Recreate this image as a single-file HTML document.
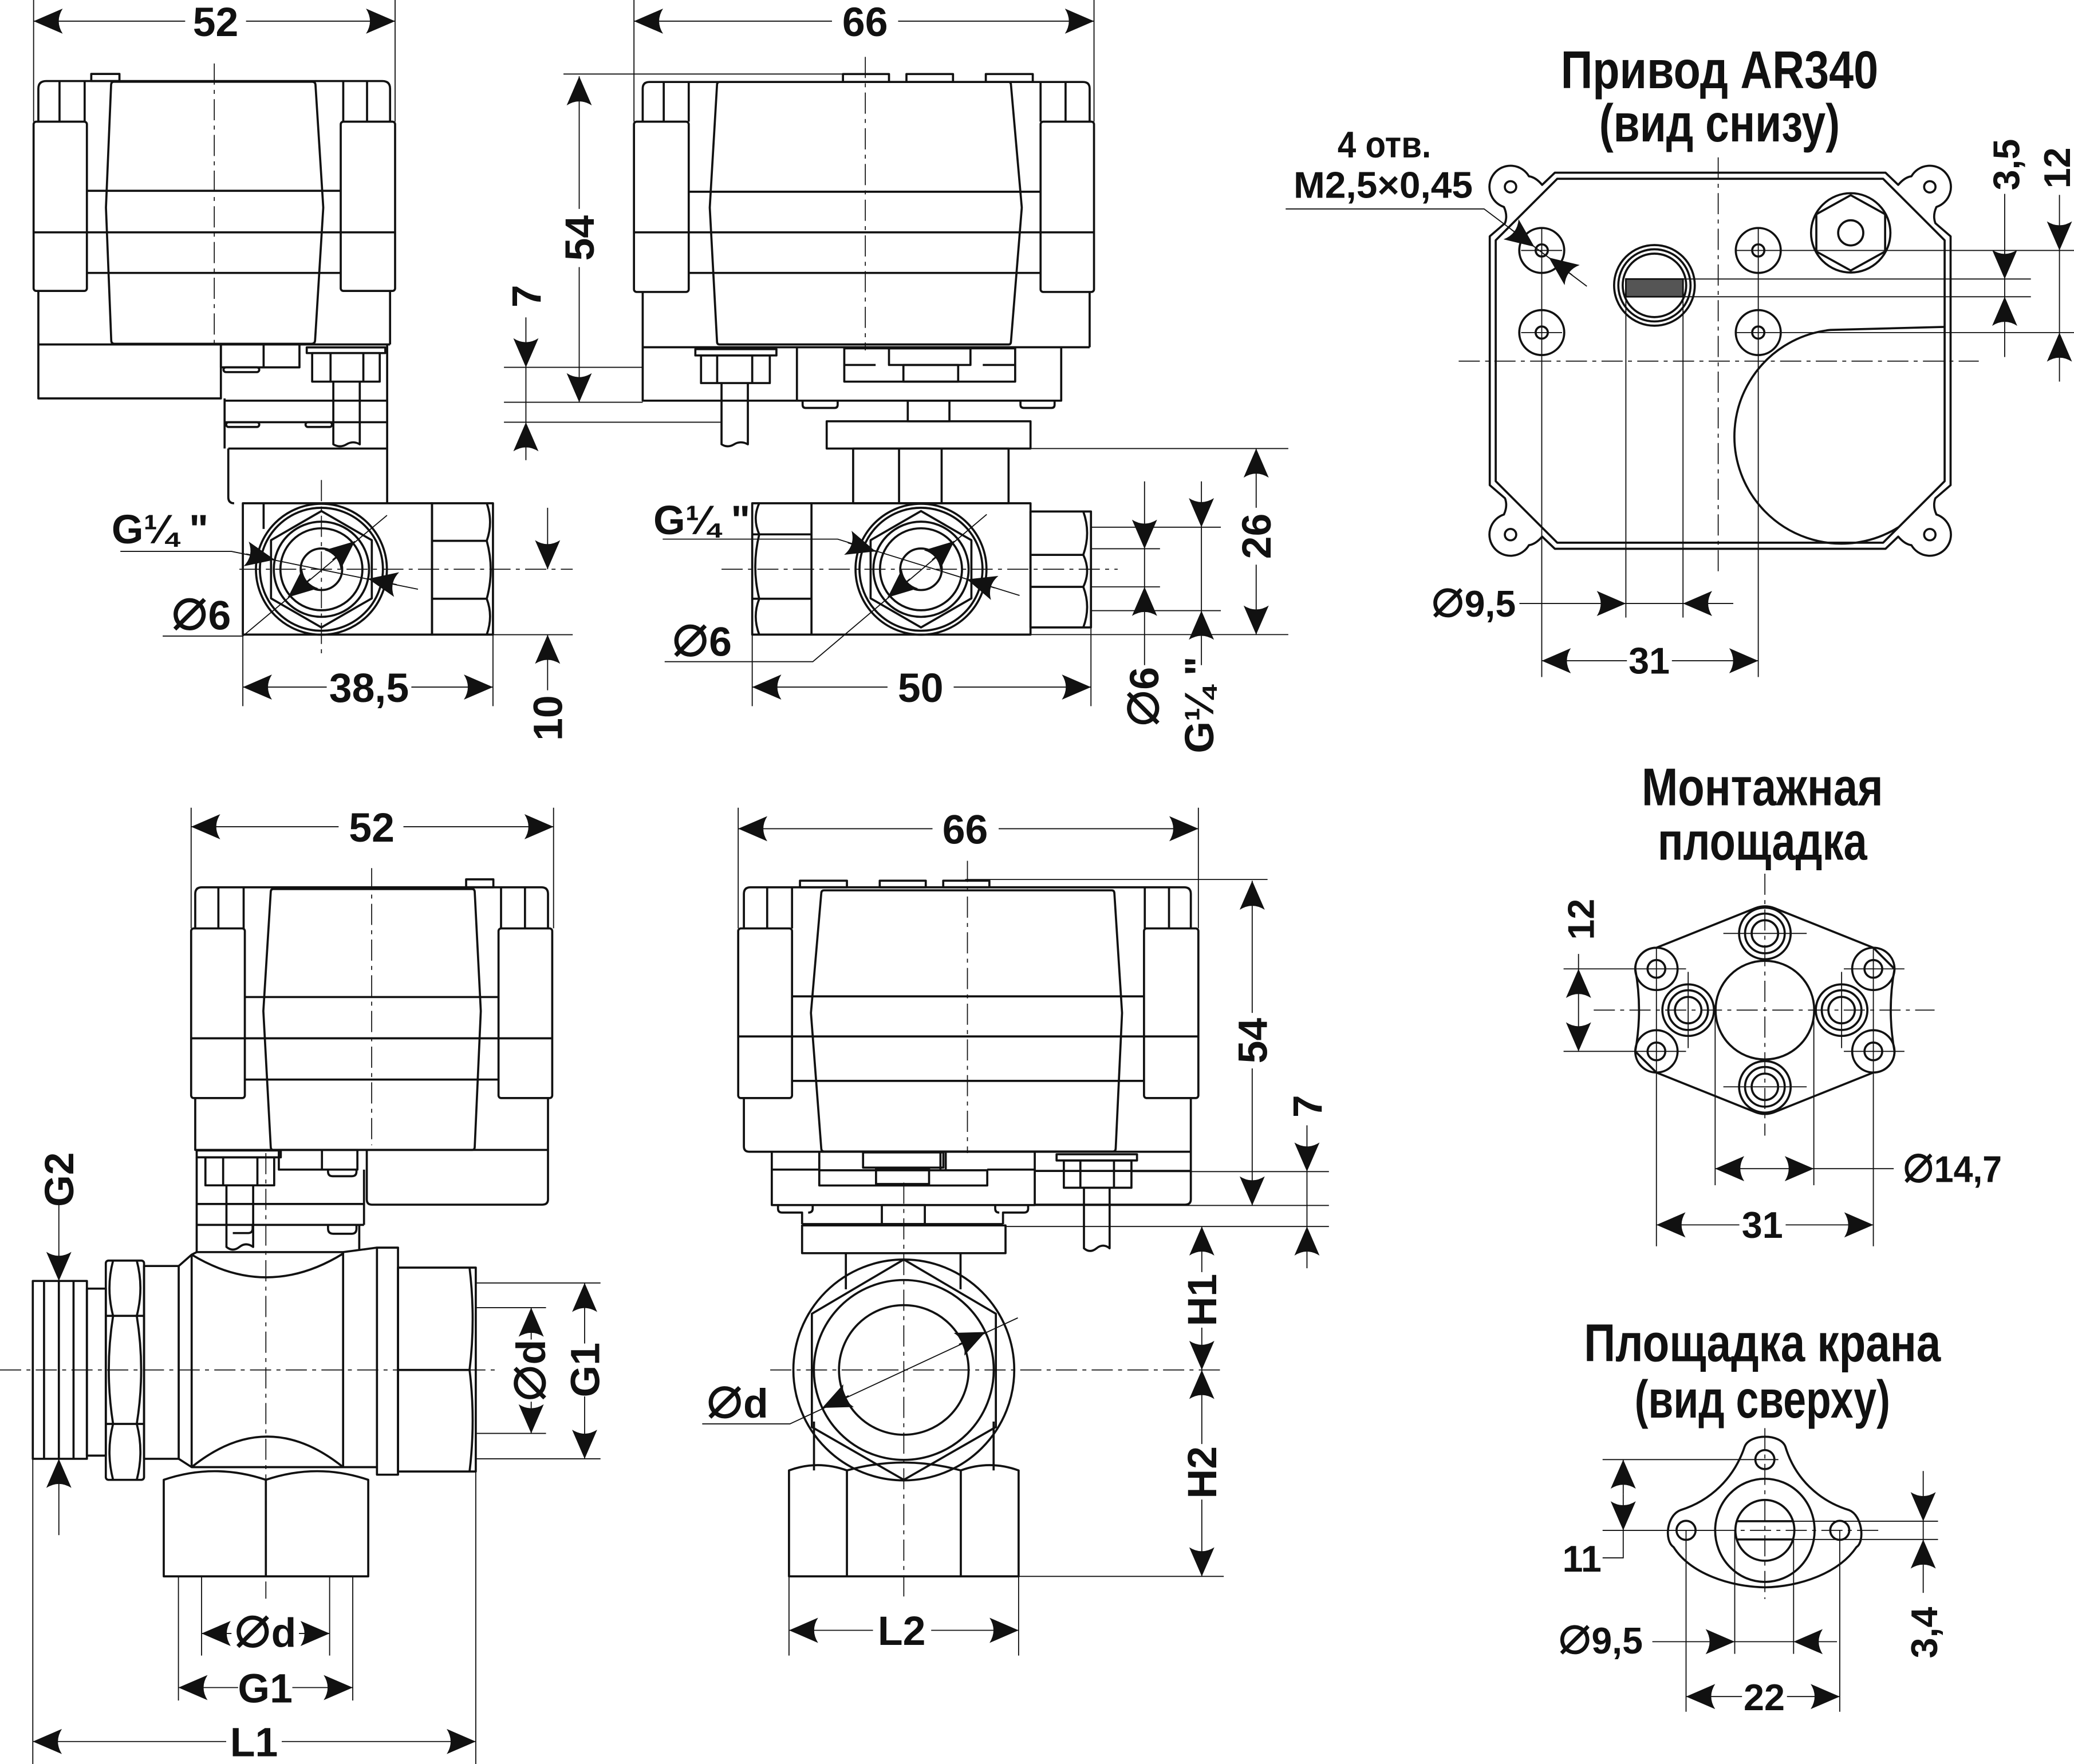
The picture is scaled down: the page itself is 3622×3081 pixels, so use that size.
<!DOCTYPE html>
<html><head><meta charset="utf-8"><style>
html,body{margin:0;padding:0;background:#fff}
svg{display:block}
.o{fill:none;stroke:#111;stroke-width:1.6;stroke-linejoin:round}
.t{fill:none;stroke:#111;stroke-width:0.8}
.c{fill:none;stroke:#111;stroke-width:0.75;stroke-dasharray:16 4 3 4}
.n{font-family:"Liberation Sans","DejaVu Sans",sans-serif;font-weight:bold;font-size:31px;fill:#111}
.s{font-family:"Liberation Sans","DejaVu Sans",sans-serif;font-weight:bold;font-size:28px;fill:#111}
.h{font-family:"Liberation Sans","DejaVu Sans",sans-serif;font-weight:bold;font-size:40px;fill:#111}
.d{font-size:1.5em;font-weight:normal}
</style></head><body>
<svg xmlns="http://www.w3.org/2000/svg" width="3622" height="3081" viewBox="0 0 1568 1334" preserveAspectRatio="none">
<defs><marker id="a" markerUnits="userSpaceOnUse" markerWidth="26" markerHeight="24" viewBox="-24 -12 26 24" refX="0" refY="0" orient="auto-start-reverse"><path d="M0,0 L-22,-9.5 Q-16,0 -22,9.5 Z" fill="#111"/></marker></defs>
<rect width="1568" height="1334" fill="#fff"/>

<!-- ================= VIEW 1 ================= -->
<line class="t" x1="25.4" y1="0" x2="25.4" y2="92"/>
<line class="t" x1="298.7" y1="0" x2="298.7" y2="92"/>
<line class="t" x1="25.4" y1="16" x2="140" y2="16" marker-start="url(#a)"/>
<line class="t" x1="186" y1="16" x2="298.7" y2="16" marker-end="url(#a)"/>
<text class="n" x="163" y="27.2" text-anchor="middle">52</text>

<path class="o" d="M29,92V67Q29,61.3 35,61.3H289Q294.9,61.3 294.9,67V92"/>
<rect class="o" x="69" y="55.9" width="21.3" height="5.4"/>
<path class="o" d="M45,61.3V92M64,61.3V92M259.5,61.3V92M277.5,61.3V92"/>
<rect class="o" x="25.4" y="92" width="40.3" height="128" rx="2"/>
<rect class="o" x="257.6" y="92" width="41.1" height="128" rx="2"/>
<path class="o" d="M86,61.8H236Q238.3,61.8 238.5,64L244.4,157L238.2,257.5Q238,260 235.5,260H86.5Q84.2,260 84.1,257.5L80.1,157L84,64Q84.2,61.8 86,61.8Z"/>
<path class="o" d="M65.7,144.3H257.6M25.4,175.7H298.7M65.7,206.4H257.6"/>
<line class="c" x1="162" y1="48" x2="162" y2="262"/>
<path class="o" d="M29,220V301.3H167V260.5M294.9,220V260.5M29,260.5H294.9"/>
<path class="o" d="M167,260.5V277.8H226.4V260.5M199.3,260.5V277.8"/>
<rect class="o" x="169" y="277.8" width="27" height="3.6" rx="1.8"/>
<rect class="o" x="231.9" y="262.7" width="59.4" height="4.3"/>
<rect class="o" x="236" y="267" width="51.1" height="21.6"/>
<path class="o" d="M249.9,267V288.6M274.7,267V288.6"/>
<path class="o" d="M169.8,301.3V339.2M169.8,303H292.7M169.8,319.3H292.7M172.6,339.2H292.7M172.6,339.2V376Q172.6,380.6 177,380.6"/>
<rect class="o" x="171" y="319.3" width="25" height="3.6" rx="1.8"/>
<rect class="o" x="231" y="319.3" width="20" height="3.6" rx="1.8"/>
<path class="o" d="M252,288.6V336Q257,339 262,336Q267,333 272,336V288.6" fill="#fff"/>
<path class="o" d="M292.7,260.5V380.6"/>

<rect class="o" x="183.6" y="380.6" width="143" height="99.3"/>
<path class="o" d="M199.3,380.6V400"/>
<rect class="o" x="326.6" y="380.6" width="46.1" height="99.3"/>
<path class="o" d="M326.6,409H368M326.6,452.8H368M368,380.6Q373,395 368,409Q374,431 368,452.8Q373,466 368,479.9"/>
<circle class="o" cx="243" cy="430.5" r="49.5" fill="#fff"/>
<circle class="o" cx="243" cy="430.5" r="46.5"/>
<polygon class="o" points="243,386.5 281.1,408.5 281.1,452.5 243,474.5 204.9,452.5 204.9,408.5"/>
<circle class="o" cx="243" cy="430.5" r="36"/>
<circle class="o" cx="243" cy="430.5" r="31"/>
<circle class="o" cx="243" cy="430.5" r="15.7"/>
<line class="c" x1="181" y1="430.5" x2="433" y2="430.5"/>
<line class="c" x1="243" y1="363" x2="243" y2="498"/>

<text class="n" x="121" y="411" text-anchor="middle" font-size="25">G¼ "</text>
<path class="t" d="M91,417H175L316,445.6"/>
<line class="t" x1="186.1" y1="418.9" x2="207.7" y2="423.3" marker-end="url(#a)"/>
<line class="t" x1="299.9" y1="442.1" x2="278.3" y2="437.7" marker-end="url(#a)"/>
<text class="n" x="152" y="476" text-anchor="middle" font-size="29"><tspan class="d">⌀</tspan>6</text>
<path class="t" d="M123,481H183.6L292.6,389.7"/>
<line class="t" x1="251.4" y1="423.4" x2="268.3" y2="409.3" marker-end="url(#a)"/>
<line class="t" x1="234.6" y1="437.6" x2="217.7" y2="451.7" marker-end="url(#a)"/>

<line class="t" x1="183.6" y1="480" x2="183.6" y2="534"/>
<line class="t" x1="372.7" y1="480" x2="372.7" y2="534"/>
<line class="t" x1="183.6" y1="519.6" x2="247" y2="519.6" marker-start="url(#a)"/>
<line class="t" x1="311" y1="519.6" x2="372.7" y2="519.6" marker-end="url(#a)"/>
<text class="n" x="279" y="530.8" text-anchor="middle">38,5</text>

<line class="t" x1="414" y1="384" x2="414" y2="430.5" marker-end="url(#a)"/>
<line class="t" x1="414" y1="522" x2="414" y2="480" marker-end="url(#a)"/>
<line class="t" x1="372.7" y1="480" x2="433" y2="480"/>
<text class="n" transform="translate(414,543) rotate(-90)" y="11" text-anchor="middle">10</text>

<line class="t" x1="397.6" y1="240" x2="397.6" y2="277.8" marker-end="url(#a)"/>
<line class="t" x1="397.6" y1="348" x2="397.6" y2="319.3" marker-end="url(#a)"/>
<line class="t" x1="397.6" y1="277.8" x2="397.6" y2="319.3"/>
<line class="t" x1="381" y1="277.8" x2="485.9" y2="277.8"/>
<line class="t" x1="381" y1="304.2" x2="485.9" y2="304.2"/>
<line class="t" x1="381" y1="319.3" x2="545.5" y2="319.3"/>
<text class="n" transform="translate(397.6,224) rotate(-90)" y="11" text-anchor="middle">7</text>

<line class="t" x1="426" y1="56" x2="671.4" y2="56"/>
<line class="t" x1="437.9" y1="57.7" x2="437.9" y2="158" marker-start="url(#a)"/>
<line class="t" x1="437.9" y1="202" x2="437.9" y2="304.2" marker-end="url(#a)"/>
<text class="n" transform="translate(437.9,180) rotate(-90)" y="11" text-anchor="middle">54</text>

<!-- ================= VIEW 2 ================= -->
<line class="t" x1="479.3" y1="0" x2="479.3" y2="92"/>
<line class="t" x1="827.1" y1="0" x2="827.1" y2="92"/>
<line class="t" x1="479.3" y1="16" x2="629" y2="16" marker-start="url(#a)"/>
<line class="t" x1="679" y1="16" x2="827.1" y2="16" marker-end="url(#a)"/>
<text class="n" x="654" y="27.2" text-anchor="middle">66</text>

<path class="o" d="M485.9,92V67Q485.9,62 491,62H818.8Q823.8,62 823.8,67V92"/>
<rect class="o" x="637.3" y="56" width="34.8" height="6"/>
<rect class="o" x="685.3" y="56" width="35.2" height="6"/>
<rect class="o" x="745.3" y="56" width="35.5" height="6"/>
<path class="o" d="M501.8,62V92M520.7,62V92M786.7,62V92M805.6,62V92"/>
<rect class="o" x="479.3" y="92" width="41.4" height="128.8" rx="2"/>
<rect class="o" x="786.7" y="92" width="40.4" height="128.8" rx="2"/>
<path class="o" d="M544,62H762.5Q764.2,62 764.3,64L772.5,157L764.3,258.5Q764.2,260.5 762.5,260.5H544Q542.2,260.5 542.1,258.5L536.6,157L542.1,64Q542.2,62 544,62Z"/>
<path class="o" d="M520.7,145H786.7M479.3,175.7H827.1M520.7,206.4H786.7"/>
<line class="c" x1="654.2" y1="43" x2="654.2" y2="265"/>
<path class="o" d="M485.9,220.8V303H602.5M823.8,220.8V262.6M485.9,262.6H823.8M602.5,262.6V303H802.3V262.6"/>
<rect class="o" x="525.7" y="264" width="61.3" height="4.8"/>
<rect class="o" x="530" y="268.8" width="52" height="20.9"/>
<path class="o" d="M542.2,268.8V289.7M568.7,268.8V289.7"/>
<path class="o" d="M545.5,289.7V336Q550,339 555,336Q560,333 565.4,336V289.7" fill="#fff"/>
<rect class="o" x="638.3" y="263.4" width="129.2" height="25.2"/>
<rect class="o" x="672.1" y="263.4" width="61.6" height="12.6"/>
<rect class="o" x="683" y="276" width="41.4" height="12.6"/>
<path class="o" d="M638.3,276H662M743,276H767.5"/>
<path class="o" d="M606.8,303V306Q606.8,308.5 609,308.5H631Q633.3,308.5 633.3,306V303M771.5,303V306Q771.5,308.5 774,308.5H795Q797.3,308.5 797.3,306V303"/>
<rect class="o" x="686.3" y="303" width="31.5" height="15.6"/>
<rect class="o" x="625" y="318.6" width="154.1" height="20.6"/>
<rect class="o" x="645" y="339.2" width="117.5" height="41.4"/>
<path class="o" d="M679.7,339.2V380.6M711.9,339.2V380.6"/>

<rect class="o" x="568.7" y="380.6" width="210.4" height="99.3"/>
<path class="o" d="M613.5,380.6V479.9M568.7,404.1H613.5M568.7,452.8H613.5M574,380.6Q568.7,392 574,404.1Q568,428.5 574,452.8Q568.7,466 574,479.9"/>
<rect class="o" x="779.1" y="386.8" width="45.7" height="87.7"/>
<path class="o" d="M779.1,419.6H819M779.1,443.8H819M819,386.8Q824.8,403 819,419.6Q824.8,431.7 819,443.8Q824.8,459 819,474.5"/>
<circle class="o" cx="696.3" cy="430.5" r="49.5" fill="#fff"/>
<circle class="o" cx="696.3" cy="430.5" r="46.5"/>
<polygon class="o" points="696.3,386.5 734.4,408.5 734.4,452.5 696.3,474.5 658.2,452.5 658.2,408.5"/>
<circle class="o" cx="696.3" cy="430.5" r="36"/>
<circle class="o" cx="696.3" cy="430.5" r="31"/>
<circle class="o" cx="696.3" cy="430.5" r="15.7"/>
<line class="c" x1="545.5" y1="430.5" x2="845" y2="430.5"/>

<text class="n" x="530.6" y="404" text-anchor="middle" font-size="25">G¼ "</text>
<path class="t" d="M501,407.7H633.3L770.8,450.3"/>
<line class="t" x1="641" y1="410.5" x2="662" y2="417" marker-end="url(#a)"/>
<line class="t" x1="752" y1="444.6" x2="731" y2="438.1" marker-end="url(#a)"/>
<text class="n" x="530.6" y="496" text-anchor="middle" font-size="29"><tspan class="d">⌀</tspan>6</text>
<path class="t" d="M502.5,500.4H614.5L746,389"/>
<line class="t" x1="704.7" y1="423.4" x2="721.5" y2="409.2" marker-end="url(#a)"/>
<line class="t" x1="687.9" y1="437.7" x2="671.1" y2="451.8" marker-end="url(#a)"/>

<line class="t" x1="568.7" y1="480" x2="568.7" y2="534"/>
<line class="t" x1="824.8" y1="475" x2="824.8" y2="534"/>
<line class="t" x1="568.7" y1="519.6" x2="671" y2="519.6" marker-start="url(#a)"/>
<line class="t" x1="721" y1="519.6" x2="824.8" y2="519.6" marker-end="url(#a)"/>
<text class="n" x="696" y="530.8" text-anchor="middle">50</text>

<line class="t" x1="824.8" y1="398.7" x2="923" y2="398.7"/>
<line class="t" x1="824.8" y1="415" x2="877" y2="415"/>
<line class="t" x1="824.8" y1="443.8" x2="877" y2="443.8"/>
<line class="t" x1="824.8" y1="461.8" x2="923" y2="461.8"/>
<line class="t" x1="865.3" y1="364" x2="865.3" y2="415" marker-end="url(#a)"/>
<line class="t" x1="865.3" y1="503" x2="865.3" y2="443.8" marker-end="url(#a)"/>
<line class="t" x1="865.3" y1="415" x2="865.3" y2="443.8"/>
<line class="t" x1="908.3" y1="364" x2="908.3" y2="398.7" marker-end="url(#a)"/>
<line class="t" x1="908.3" y1="503" x2="908.3" y2="461.8" marker-end="url(#a)"/>
<line class="t" x1="908.3" y1="398.7" x2="908.3" y2="461.8"/>
<text class="n" transform="translate(865.3,527) rotate(-90)" y="10.5" text-anchor="middle" font-size="29"><tspan class="d">⌀</tspan>6</text>
<text class="n" transform="translate(908.3,533) rotate(-90)" y="9" text-anchor="middle" font-size="25">G¼ "</text>

<line class="t" x1="779.1" y1="339.2" x2="974" y2="339.2"/>
<line class="t" x1="779.1" y1="479.9" x2="974" y2="479.9"/>
<line class="t" x1="949.7" y1="384" x2="949.7" y2="339.2" marker-end="url(#a)"/>
<line class="t" x1="949.7" y1="427" x2="949.7" y2="479.9" marker-end="url(#a)"/>
<text class="n" transform="translate(949.7,405.5) rotate(-90)" y="11" text-anchor="middle">26</text>

<!-- ================= VIEW 3 ================= -->
<text class="h" x="1300" y="66.7" text-anchor="middle" textLength="240" lengthAdjust="spacingAndGlyphs">Привод AR340</text>
<text class="h" x="1300" y="107" text-anchor="middle" textLength="182" lengthAdjust="spacingAndGlyphs">(вид снизу)</text>
<text class="s" x="1046.6" y="119" text-anchor="middle" textLength="70.7" lengthAdjust="spacingAndGlyphs">4 отв.</text>
<text class="s" x="1045.7" y="149.7" text-anchor="middle" textLength="135.5" lengthAdjust="spacingAndGlyphs">M2,5×0,45</text>

<path class="o" d="M1175.5,130.6L1425.5,130.6L1435.1,139.8Q1440,134 1445.1,133.3A16,16 0 1 1 1464,156.5Q1461,163 1463.2,168.8L1474.7,178.7L1474.7,366.9L1463.2,376.8Q1461,382.6 1464,389.1A16,16 0 1 1 1445.1,412.3Q1440,411.6 1435.1,405.8L1425.5,415L1175.5,415L1165.9,405.8Q1161,411.6 1155.9,412.3A16,16 0 1 1 1137,389.1Q1140,382.6 1137.8,376.8L1126.3,366.9L1126.3,178.7L1137.8,168.8Q1140,163 1137,156.5A16,16 0 1 1 1155.9,133.3Q1161,134 1165.9,139.8Z"/>
<path class="o" d="M1177.3,135.2L1423.7,135.2L1470.2,181.7L1470.2,363.9L1423.7,410.4L1177.3,410.4L1130.8,363.9L1130.8,181.7Z"/>
<circle class="o" cx="1142" cy="141.3" r="4.3"/>
<circle class="o" cx="1459" cy="141.3" r="4.3"/>
<circle class="o" cx="1142" cy="404.3" r="4.3"/>
<circle class="o" cx="1459" cy="404.3" r="4.3"/>

<circle class="o" cx="1165.6" cy="189.4" r="17"/><circle class="o" cx="1165.6" cy="189.4" r="4.6"/>
<circle class="o" cx="1329.3" cy="189.4" r="17"/><circle class="o" cx="1329.3" cy="189.4" r="4.6"/>
<circle class="o" cx="1165.6" cy="251.5" r="17"/><circle class="o" cx="1165.6" cy="251.5" r="4.6"/>
<circle class="o" cx="1329.3" cy="251.5" r="17"/><circle class="o" cx="1329.3" cy="251.5" r="4.6"/>
<path class="t" d="M1150,189.4H1181M1150,251.5H1181M1165.6,173V512M1329.3,173V512M1312,189.4H1568M1312,251.5H1568"/>

<circle class="o" cx="1250.8" cy="215.8" r="30.5"/>
<circle class="o" cx="1250.8" cy="215.8" r="27.3"/>
<circle class="o" cx="1250.8" cy="215.8" r="24"/>
<rect x="1229.2" y="211" width="43.2" height="13.4" fill="#555" stroke="#111" stroke-width="1.2"/>
<path class="t" d="M1272.4,211H1535.4M1272.4,224.4H1535.4M1229.2,224.4V467M1272.4,224.4V467"/>

<circle class="o" cx="1399.2" cy="176.1" r="30"/>
<polygon class="o" points="1399.2,147.6 1425.2,162 1425.2,190.2 1399.2,204.6 1373.2,190.2 1373.2,162"/>
<circle class="o" cx="1399.2" cy="176.1" r="9.5"/>

<path class="o" d="M1470.4,247.2L1384,249.5Q1381.5,249.7 1380.8,249.9A81,81 0 1 0 1435.3,398.7"/>
<line class="c" x1="1102.8" y1="273.1" x2="1496" y2="273.1"/>
<line class="c" x1="1299" y1="119" x2="1299" y2="435"/>

<path class="t" d="M972,158H1122L1199.7,216.5"/>
<line class="t" x1="1142.4" y1="173.4" x2="1160" y2="186.6" marker-end="url(#a)"/>
<line class="t" x1="1188.6" y1="208" x2="1171" y2="194.8" marker-end="url(#a)"/>

<line class="t" x1="1515.6" y1="146.6" x2="1515.6" y2="211" marker-end="url(#a)"/>
<line class="t" x1="1515.6" y1="270" x2="1515.6" y2="224.4" marker-end="url(#a)"/>
<line class="t" x1="1515.6" y1="211" x2="1515.6" y2="224.4"/>
<text class="s" transform="translate(1516.6,124.5) rotate(-90)" y="10" text-anchor="middle">3,5</text>
<line class="t" x1="1557" y1="147.4" x2="1557" y2="189.4" marker-end="url(#a)"/>
<line class="t" x1="1557" y1="288.6" x2="1557" y2="251.5" marker-end="url(#a)"/>
<line class="t" x1="1557" y1="189.4" x2="1557" y2="251.5"/>
<text class="s" transform="translate(1555,127) rotate(-90)" y="10" text-anchor="middle">12</text>

<line class="t" x1="1148.7" y1="456.4" x2="1229.2" y2="456.4" marker-end="url(#a)"/>
<line class="t" x1="1310.4" y1="456.4" x2="1272.4" y2="456.4" marker-end="url(#a)"/>
<line class="t" x1="1229.2" y1="456.4" x2="1272.4" y2="456.4"/>
<text class="s" x="1114" y="466.3" text-anchor="middle" textLength="64" lengthAdjust="spacingAndGlyphs"><tspan class="d">⌀</tspan>9,5</text>
<line class="t" x1="1165.6" y1="499.7" x2="1230" y2="499.7" marker-start="url(#a)"/>
<line class="t" x1="1264" y1="499.7" x2="1329.3" y2="499.7" marker-end="url(#a)"/>
<text class="s" x="1246.8" y="509.4" text-anchor="middle">31</text>

<!-- ================= VIEW 4 ================= -->
<line class="t" x1="144.5" y1="610.8" x2="144.5" y2="702"/>
<line class="t" x1="418.5" y1="610.8" x2="418.5" y2="702"/>
<line class="t" x1="144.5" y1="625.2" x2="256" y2="625.2" marker-start="url(#a)"/>
<line class="t" x1="305" y1="625.2" x2="418.5" y2="625.2" marker-end="url(#a)"/>
<text class="n" x="281" y="636.4" text-anchor="middle">52</text>

<path class="o" d="M147.6,702.1V676Q147.6,671 152.6,671H409.3Q414.3,671 414.3,676V702.1"/>
<rect class="o" x="352.4" y="665" width="20.6" height="6"/>
<path class="o" d="M165.1,671V702.1M184.2,671V702.1M378.8,671V702.1M396.9,671V702.1"/>
<rect class="o" x="144.5" y="702.1" width="40.6" height="128.3" rx="2"/>
<rect class="o" x="376.9" y="702.1" width="40.6" height="128.3" rx="2"/>
<path class="o" d="M206.5,672.3H357Q358.8,672.3 358.9,674.5L363.5,764.6L358.9,867.5Q358.8,869.6 357,869.6H206.5Q204.8,869.6 204.7,867.5L199.1,764.6L204.7,674.5Q204.8,672.3 206.5,672.3Z"/>
<path class="o" d="M185.1,754H376.9M144.5,785.2H417.5M185.1,816.4H376.9"/>
<line class="c" x1="281" y1="656.5" x2="281" y2="866"/>
<path class="o" d="M147.6,830.4V869.6H414.3M414.3,830.4V907Q414.3,911 410,911H281Q277.3,911 277.3,907V869.6"/>
<rect class="o" x="148.7" y="870" width="63.6" height="5.2"/>
<rect class="o" x="155.3" y="875.2" width="52" height="21.2"/>
<path class="o" d="M168.7,875.2V896.4M194.6,875.2V896.4"/>
<rect class="o" x="210.8" y="869.6" width="59.4" height="14.9"/>
<path class="o" d="M243.4,869.6V884.5"/>
<path class="o" d="M248,884.5V886Q248,889.5 251.5,889.5H266Q269.5,889.5 269.5,886V884.5"/>
<path class="o" d="M148.7,875.2V946.9M148.7,910.5H275.2M148.7,926.3H275.2M275.2,884.5V926.3M271.6,926.3V945"/>
<path class="o" d="M191,926.3V929Q191,932.5 187.5,932.5H176 M248,926.3V929Q248,933 252,933H266Q269.5,933 269.5,929V926.3"/>
<path class="o" d="M171.2,896.4V943Q176,947 181,943Q186,939 191.4,943V896.4" fill="#fff"/>

<rect class="o" x="24.8" y="968.7" width="40.9" height="134.5"/>
<path class="o" d="M33.3,968.7V1103.2M44.5,968.7V1103.2M55.6,968.7V1103.2"/>
<rect class="o" x="65.7" y="974.5" width="14.3" height="126.3"/>
<rect class="o" x="80" y="953.3" width="28.9" height="165.8" rx="2"/>
<path class="o" d="M80,995.1H108.9M80,1076.8H108.9M85.5,953.3Q80,974 85.5,995.1Q79,1036 85.5,1076.8Q80,1098 85.5,1119.1M103.4,953.3Q108.9,974 103.4,995.1Q110,1036 103.4,1076.8Q108.9,1098 103.4,1119.1"/>
<rect class="o" x="108.9" y="957.4" width="26.2" height="145.8"/>
<path class="o" d="M135.1,957.4L144.9,948.8L148.7,946.9H259.4L285,943.5M135.1,1103.2L144.9,1109.5H285M144.9,948.8V1109.5M259.4,946.9V1109.5M144.9,948.8Q202,983.5 259.4,948M144.9,1109.5Q202,1063.3 259.4,1109.5"/>
<rect class="o" x="285" y="943.5" width="15.9" height="171.7"/>
<rect class="o" x="300.9" y="958.6" width="58.8" height="154.2"/>
<path class="o" d="M300.9,1036H355M355,958.6Q359.7,998 355,1036Q359.7,1074 355,1112.8"/>
<path class="o" d="M123.8,1192.1V1119.1Q162,1106 201,1119.1Q240,1106 278.4,1119.1V1192.1ZM201,1119.1V1192.1" fill="#fff"/>
<line class="c" x1="0" y1="1036" x2="378" y2="1036"/>
<line class="c" x1="201" y1="872" x2="201" y2="1209"/>

<line class="t" x1="44.5" y1="911" x2="44.5" y2="968.7" marker-end="url(#a)"/>
<line class="t" x1="44.5" y1="1160.9" x2="44.5" y2="1103.2" marker-end="url(#a)"/>
<text class="n" transform="translate(44.5,892) rotate(-90)" y="11" text-anchor="middle">G2</text>
<line class="t" x1="359.7" y1="970.2" x2="454" y2="970.2"/>
<line class="t" x1="359.7" y1="988.9" x2="412.8" y2="988.9"/>
<line class="t" x1="359.7" y1="1084" x2="412.8" y2="1084"/>
<line class="t" x1="359.7" y1="1103.2" x2="454" y2="1103.2"/>
<line class="t" x1="401.6" y1="1013" x2="401.6" y2="988.9" marker-end="url(#a)"/>
<line class="t" x1="401.6" y1="1060" x2="401.6" y2="1084" marker-end="url(#a)"/>
<text class="n" transform="translate(401.6,1036.5) rotate(-90)" y="10.5" text-anchor="middle" font-size="29"><tspan class="d">⌀</tspan>d</text>
<line class="t" x1="442" y1="1016" x2="442" y2="970.2" marker-end="url(#a)"/>
<line class="t" x1="442" y1="1056" x2="442" y2="1103.2" marker-end="url(#a)"/>
<text class="n" transform="translate(442,1036) rotate(-90)" y="11" text-anchor="middle">G1</text>

<path class="t" d="M152.4,1192V1252M249.2,1192V1252M134.9,1192V1286M266.7,1192V1286M24.8,1103.2V1334M359.7,1112.8V1334"/>
<line class="t" x1="175" y1="1235.3" x2="152.4" y2="1235.3" marker-end="url(#a)"/>
<line class="t" x1="226" y1="1235.3" x2="249.2" y2="1235.3" marker-end="url(#a)"/>
<text class="n" x="200.5" y="1245.5" text-anchor="middle" font-size="29"><tspan class="d">⌀</tspan>d</text>
<line class="t" x1="134.9" y1="1276.2" x2="180" y2="1276.2" marker-start="url(#a)"/>
<line class="t" x1="221" y1="1276.2" x2="266.7" y2="1276.2" marker-end="url(#a)"/>
<text class="n" x="200.5" y="1287.4" text-anchor="middle">G1</text>
<line class="t" x1="24.8" y1="1317" x2="171" y2="1317" marker-start="url(#a)"/>
<line class="t" x1="213" y1="1317" x2="359.7" y2="1317" marker-end="url(#a)"/>
<text class="n" x="192" y="1328.2" text-anchor="middle">L1</text>

<!-- ================= VIEW 5 ================= -->
<line class="t" x1="558.1" y1="610.8" x2="558.1" y2="702"/>
<line class="t" x1="906" y1="610.8" x2="906" y2="702"/>
<line class="t" x1="558.1" y1="626.7" x2="705" y2="626.7" marker-start="url(#a)"/>
<line class="t" x1="755" y1="626.7" x2="906" y2="626.7" marker-end="url(#a)"/>
<text class="n" x="729.7" y="637.9" text-anchor="middle">66</text>

<path class="o" d="M562.4,702.1V676Q562.4,671 567.4,671H895.3Q900.3,671 900.3,676V702.1"/>
<rect class="o" x="604.8" y="666" width="35.5" height="5"/>
<rect class="o" x="665.1" y="666" width="34.8" height="5"/>
<rect class="o" x="713.1" y="666" width="34.9" height="5"/>
<path class="o" d="M580,671V702.1M598.8,671V702.1M865.5,671V702.1M883.8,671V702.1"/>
<rect class="o" x="558.1" y="702.1" width="40.7" height="128.3" rx="2"/>
<rect class="o" x="864.9" y="702.1" width="41.1" height="128.3" rx="2"/>
<path class="o" d="M623,673.3H840.5Q842.4,673.3 842.5,675.5L848.3,766L843.5,868.5Q843.4,870.8 841.5,870.8H623Q621,870.8 620.9,868.5L613.1,766L620.9,675.5Q621,673.3 623,673.3Z"/>
<path class="o" d="M598.8,753.5H864.9M558.1,783.8H906M598.8,817.4H864.9"/>
<line class="c" x1="731.4" y1="651" x2="731.4" y2="872"/>
<path class="o" d="M562.4,830.4V867Q562.4,871 566.5,871H900.3M900.3,830.4V907Q900.3,911 896,911H782.3"/>
<path class="o" d="M583.5,871V911.3H782.3V871M782.3,885.5H900.3M583.5,884.5H619.4M746.4,884.5H782.3"/>
<rect class="o" x="619.4" y="885" width="127" height="11.5"/>
<rect class="o" x="652.5" y="871.5" width="60.7" height="11.5"/>
<rect class="o" x="662.3" y="883.8" width="40.1" height="11.6"/>
<path class="o" d="M619.4,871V885M711,871V884.5M715,871V884.5"/>
<rect class="o" x="798.8" y="872.9" width="60.8" height="4.7"/>
<rect class="o" x="804.3" y="877.6" width="51.1" height="20.6"/>
<path class="o" d="M816.8,877.6V898.2M842.2,877.6V898.2"/>
<path class="o" d="M819.5,898.2V944Q824,948 829,944Q834,940 838.9,944V898.2" fill="#fff"/>
<path class="o" d="M588.2,911.3V914Q588.2,917 591.5,917H606.4V925.7M614.4,911.3V914Q614.4,917 611,917"/>
<path class="o" d="M777.3,911.3V914Q777.3,917 774,917H758.3V925.7M752.4,911.3V914Q752.4,917 755.5,917"/>
<rect class="o" x="666.7" y="911.3" width="32.5" height="14.4"/>
<path class="o" d="M606.4,925.7H758.3"/>
<rect class="o" x="606.4" y="926.7" width="153.8" height="21"/>
<path class="o" d="M639.5,947.7V975M726.2,947.7V975"/>

<path class="o" d="M615.4,1075V1112M751.2,1075V1112"/>
<circle class="o" cx="683.3" cy="1036" r="83.5"/>
<polygon class="o" points="683.3,952.5 752.9,993.5 752.9,1079.2 683.3,1119.1 613.8,1079.2 613.8,993.5"/>
<circle class="o" cx="683.3" cy="1036" r="68"/>
<circle class="o" cx="683.3" cy="1036" r="49"/>
<path class="o" d="M596.5,1192.1V1112Q618,1104 640.3,1112Q683.3,1100 726.4,1112Q748,1104 770.1,1112V1192.1ZM640.3,1112V1192.1M726.4,1112V1192.1" fill="#fff"/>
<line class="c" x1="582.3" y1="1036" x2="925.2" y2="1036"/>
<line class="c" x1="683.3" y1="894.3" x2="683.3" y2="1209"/>

<text class="n" x="557.4" y="1072" text-anchor="middle" font-size="29"><tspan class="d">⌀</tspan>d</text>
<path class="t" d="M530.9,1076.8H597.2L769.5,996.6"/>
<line class="t" x1="725" y1="1016.6" x2="745" y2="1007.3" marker-end="url(#a)"/>
<line class="t" x1="641.6" y1="1055.4" x2="621.6" y2="1064.7" marker-end="url(#a)"/>

<line class="t" x1="729.7" y1="665.1" x2="958.3" y2="665.1"/>
<line class="t" x1="946.7" y1="666" x2="946.7" y2="766" marker-start="url(#a)"/>
<line class="t" x1="946.7" y1="808" x2="946.7" y2="911.6" marker-end="url(#a)"/>
<text class="n" transform="translate(946.7,787) rotate(-90)" y="11" text-anchor="middle">54</text>
<line class="t" x1="855.6" y1="886" x2="1004.7" y2="886"/>
<line class="t" x1="782.3" y1="911.6" x2="1004.7" y2="911.6"/>
<line class="t" x1="760.2" y1="927.5" x2="1004.7" y2="927.5"/>
<line class="t" x1="988.1" y1="851" x2="988.1" y2="886" marker-end="url(#a)"/>
<line class="t" x1="988.1" y1="959.1" x2="988.1" y2="927.5" marker-end="url(#a)"/>
<line class="t" x1="988.1" y1="886" x2="988.1" y2="927.5"/>
<text class="n" transform="translate(988.1,836.6) rotate(-90)" y="11" text-anchor="middle">7</text>
<line class="t" x1="908.6" y1="962" x2="908.6" y2="927.5" marker-end="url(#a)"/>
<line class="t" x1="908.6" y1="1004" x2="908.6" y2="1036" marker-end="url(#a)"/>
<text class="n" transform="translate(908.6,983.1) rotate(-90)" y="11" text-anchor="middle">H1</text>
<line class="t" x1="908.6" y1="1092" x2="908.6" y2="1036" marker-end="url(#a)"/>
<line class="t" x1="908.6" y1="1134" x2="908.6" y2="1192.1" marker-end="url(#a)"/>
<text class="n" transform="translate(908.6,1113.5) rotate(-90)" y="11" text-anchor="middle">H2</text>
<line class="t" x1="770.1" y1="1192.1" x2="925.2" y2="1192.1"/>
<line class="t" x1="596.5" y1="1192" x2="596.5" y2="1252"/>
<line class="t" x1="770.1" y1="1192" x2="770.1" y2="1252"/>
<line class="t" x1="596.5" y1="1232.9" x2="660" y2="1232.9" marker-start="url(#a)"/>
<line class="t" x1="704" y1="1232.9" x2="770.1" y2="1232.9" marker-end="url(#a)"/>
<text class="n" x="681.7" y="1244" text-anchor="middle">L2</text>

<!-- ================= VIEW 6 ================= -->
<text class="h" x="1332.4" y="609" text-anchor="middle" textLength="182.5" lengthAdjust="spacingAndGlyphs">Монтажная</text>
<text class="h" x="1332.4" y="650.2" text-anchor="middle" textLength="158.4" lengthAdjust="spacingAndGlyphs">площадка</text>
<path class="o" d="M1327,686.8L1252.3,716.7A16,16 0 0 0 1236.3,732.7Q1242,763.9 1236.3,795.1L1252.3,811.1L1327,841A19.5,19.5 0 0 0 1341.6,841L1416.3,811.1A16,16 0 0 0 1432.3,795.1Q1426.6,763.9 1432.3,732.7L1416.3,716.7L1341.6,686.8A19.5,19.5 0 0 0 1327,686.8Z"/>
<circle class="o" cx="1334.3" cy="763.9" r="37.3"/>
<g>
<circle class="o" cx="1334.3" cy="705.9" r="19.5"/><circle class="o" cx="1334.3" cy="705.9" r="15"/><circle class="o" cx="1334.3" cy="705.9" r="10"/>
<circle class="o" cx="1334.3" cy="821.9" r="19.5"/><circle class="o" cx="1334.3" cy="821.9" r="15"/><circle class="o" cx="1334.3" cy="821.9" r="10"/>
<circle class="o" cx="1276.3" cy="763.9" r="19.5"/><circle class="o" cx="1276.3" cy="763.9" r="15"/><circle class="o" cx="1276.3" cy="763.9" r="10"/>
<circle class="o" cx="1392.3" cy="763.9" r="19.5"/><circle class="o" cx="1392.3" cy="763.9" r="15"/><circle class="o" cx="1392.3" cy="763.9" r="10"/>
<circle class="o" cx="1252.3" cy="732.7" r="16"/><circle class="o" cx="1252.3" cy="732.7" r="6.7"/>
<circle class="o" cx="1416.3" cy="732.7" r="16"/><circle class="o" cx="1416.3" cy="732.7" r="6.7"/>
<circle class="o" cx="1252.3" cy="795.1" r="16"/><circle class="o" cx="1252.3" cy="795.1" r="6.7"/>
<circle class="o" cx="1416.3" cy="795.1" r="16"/><circle class="o" cx="1416.3" cy="795.1" r="6.7"/>
</g>
<line class="c" x1="1204.9" y1="763.9" x2="1462.6" y2="763.9"/>
<line class="c" x1="1334.3" y1="660.7" x2="1334.3" y2="858.8"/>
<path class="t" d="M1302.9,705.9H1365.9M1302.9,821.9H1365.9M1276.3,735V792.6M1392.3,735V792.6M1182.1,732.7H1274.7M1182.1,795.1H1274.7M1394,732.7H1439.8M1394,795.1H1439.8M1252.3,716V942.5M1416.3,716V942.5M1296.7,763.9V896.3M1371.3,763.9V896.3"/>
<line class="t" x1="1193.4" y1="721.4" x2="1193.4" y2="732.7"/>
<line class="t" x1="1193.4" y1="764" x2="1193.4" y2="732.7" marker-end="url(#a)"/>
<line class="t" x1="1193.4" y1="764" x2="1193.4" y2="795.1" marker-end="url(#a)"/>
<text class="s" transform="translate(1195,695.2) rotate(-90)" y="10" text-anchor="middle">12</text>
<line class="t" x1="1296.7" y1="883.8" x2="1371.3" y2="883.8" marker-start="url(#a)" marker-end="url(#a)"/>
<line class="t" x1="1371.3" y1="883.8" x2="1431.7" y2="883.8"/>
<text class="s" x="1476" y="893.8" text-anchor="middle" textLength="75" lengthAdjust="spacingAndGlyphs"><tspan class="d">⌀</tspan>14,7</text>
<line class="t" x1="1252.3" y1="926.3" x2="1315" y2="926.3" marker-start="url(#a)"/>
<line class="t" x1="1350" y1="926.3" x2="1416.3" y2="926.3" marker-end="url(#a)"/>
<text class="s" x="1332.4" y="936" text-anchor="middle">31</text>

<!-- ================= VIEW 7 ================= -->
<text class="h" x="1332.4" y="1029.3" text-anchor="middle" textLength="269.7" lengthAdjust="spacingAndGlyphs">Площадка крана</text>
<text class="h" x="1332.4" y="1072" text-anchor="middle" textLength="193.2" lengthAdjust="spacingAndGlyphs">(вид сверху)</text>
<path class="o" d="M1319,1094C1323,1084 1346,1084 1349.8,1094C1357,1118 1375,1135 1398,1142C1408,1146 1410,1166 1403.5,1170C1390,1190 1360,1200 1334.3,1200.4C1308,1200 1278,1190 1265.3,1170C1258,1165 1260,1146 1270.5,1142C1293,1135 1311,1118 1319,1094Z"/>
<circle class="o" cx="1334.3" cy="1103.8" r="7.2"/>
<circle class="o" cx="1274.7" cy="1157.3" r="7.2"/>
<circle class="o" cx="1390.9" cy="1157.3" r="7.2"/>
<ellipse class="o" cx="1334.3" cy="1157.3" rx="37.6" ry="39"/>
<ellipse class="o" cx="1334.3" cy="1157.3" rx="22.3" ry="23"/>
<path class="o" d="M1312.5,1150.4H1356M1312.5,1164.2H1356"/>
<path class="c" d="M1334.3,1080V1209.2M1296,1157.3H1422.3"/>
<path class="t" d="M1211.6,1103.8H1344.5M1211.6,1157.3H1296M1274.7,1157.3V1294.5M1390.9,1157.3V1294.5M1356,1164.2H1465.2M1356,1150.4H1465.2M1311.5,1157V1250.7M1356,1164V1250.7"/>
<line class="t" x1="1227.2" y1="1130" x2="1227.2" y2="1103.8" marker-end="url(#a)"/>
<line class="t" x1="1227.2" y1="1130" x2="1227.2" y2="1157.3" marker-end="url(#a)"/>
<path class="t" d="M1227.2,1157.3V1178.1H1211.6"/>
<text class="s" x="1196" y="1188.5" text-anchor="middle" font-size="27">11</text>
<line class="t" x1="1454" y1="1112.4" x2="1454" y2="1150.4" marker-end="url(#a)"/>
<line class="t" x1="1454" y1="1204.6" x2="1454" y2="1164.2" marker-end="url(#a)"/>
<line class="t" x1="1454" y1="1150.4" x2="1454" y2="1164.2"/>
<text class="s" transform="translate(1454.6,1234.6) rotate(-90)" y="10" text-anchor="middle">3,4</text>
<line class="t" x1="1249.2" y1="1241.5" x2="1311.5" y2="1241.5" marker-end="url(#a)"/>
<line class="t" x1="1388.8" y1="1241.5" x2="1356" y2="1241.5" marker-end="url(#a)"/>
<line class="t" x1="1311.5" y1="1241.5" x2="1356" y2="1241.5"/>
<text class="s" x="1210" y="1250.5" text-anchor="middle" textLength="64" lengthAdjust="spacingAndGlyphs"><tspan class="d">⌀</tspan>9,5</text>
<line class="t" x1="1274.7" y1="1283" x2="1317" y2="1283" marker-start="url(#a)"/>
<line class="t" x1="1351" y1="1283" x2="1390.9" y2="1283" marker-end="url(#a)"/>
<text class="s" x="1333.8" y="1293.4" text-anchor="middle">22</text>
</svg>
</body></html>
